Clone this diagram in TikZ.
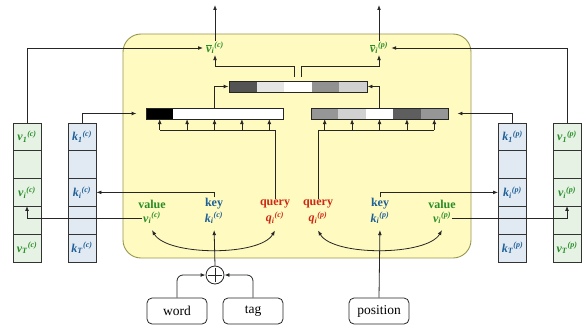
\documentclass[tikz,border=0pt]{standalone}
\usepackage{fontspec}
\setmainfont{Liberation Serif}
\usetikzlibrary{arrows.meta}

\definecolor{valgreen}{RGB}{40,140,40}
\definecolor{keyblue}{RGB}{30,95,150}
\definecolor{qred}{RGB}{205,40,20}
\definecolor{boxyellow}{RGB}{255,250,192}
\definecolor{boxedge}{RGB}{150,150,80}
\definecolor{vfill}{RGB}{230,242,228}
\definecolor{kfill}{RGB}{225,234,243}

% bold italic vector with subscript and superscript
\newcommand{\symvec}[3]{\textbf{\textit{#1}}\textsubscript{\textbf{\textit{#2}}}\textsuperscript{\textbf{\textit{(#3)}}}}
% the same, with a bar over the letter
\newcommand{\symbar}[3]{\ensuremath{\overline{\mbox{\textbf{\textit{#1}}}}}\textsubscript{\textbf{\textit{#2}}}\textsuperscript{\textbf{\textit{(#3)}}}}

\begin{document}
\begin{tikzpicture}[x=1pt,y=-1pt,
  conn/.style={draw=black!85, line width=0.8pt},
  arr/.style={conn, -{Latex[length=5pt,width=3.8pt]}},
  darr/.style={conn, {Latex[length=5pt,width=3.8pt]}-{Latex[length=5pt,width=3.8pt]}},
  cell/.style={draw=black!80, line width=0.8pt, minimum width=28pt, minimum height=27.8pt, inner sep=0pt, font=\fontsize{12}{14}\selectfont},
  vcell/.style={cell, fill=vfill, text=valgreen},
  kcell/.style={cell, fill=kfill, text=keyblue},
  role/.style={font=\fontsize{12}{14}\selectfont\bfseries, inner sep=1pt},
  sym/.style={font=\fontsize{12}{14}\selectfont, inner sep=1pt},
  attbar/.style={draw=black!85, line width=0.8pt, minimum height=11pt, inner sep=0pt},
  inbox/.style={draw=black!85, line width=0.8pt, rounded corners=5pt, minimum width=60pt, minimum height=26pt, inner sep=0pt, font=\fontsize{13.5}{16}\selectfont},
]
\useasboundingbox (0,0) rectangle (583,329);

% attention block
\draw[fill=boxyellow, draw=boxedge, line width=0.9pt, rounded corners=18pt] (123,34) rectangle (471,258);

% weight bars: segment shading, then outlines
\foreach \g [count=\n] in {100,0,0,0,0}
  \fill[black!\g] ({146+27.4*(\n-1)},108) rectangle ({146+27.4*\n},119);
\foreach \g [count=\n] in {41,18,0,63,41}
  \fill[black!\g] ({311+27.4*(\n-1)},108) rectangle ({311+27.4*\n},119);
\foreach \g [count=\n] in {67,10,0,43,18}
  \fill[black!\g] ({229+27.6*(\n-1)},81) rectangle ({229+27.6*\n},92);
\node[attbar, minimum width=137pt] (attc) at (214.5,113.5) {};
\node[attbar, minimum width=137pt] (attp) at (379.5,113.5) {};
\node[attbar, minimum width=138pt] (mix) at (298,86.5) {};

% memory columns
\foreach \t [count=\n] in {{\symvec{v}{1}{c}},{},{\symvec{v}{i}{c}},{},{\symvec{v}{T}{c}}}
  \node[vcell] (vc\n) at (27,{109+27.8*\n}) {\t};
\foreach \t [count=\n] in {{\symvec{k}{1}{c}},{},{\symvec{k}{i}{c}},{},{\symvec{k}{T}{c}}}
  \node[kcell] (kc\n) at (82,{109+27.8*\n}) {\t};
\foreach \t [count=\n] in {{\symvec{k}{1}{p}},{},{\symvec{k}{i}{p}},{},{\symvec{k}{T}{p}}}
  \node[kcell] (kp\n) at (512.5,{109+27.8*\n}) {\t};
\foreach \t [count=\n] in {{\symvec{v}{1}{p}},{},{\symvec{v}{i}{p}},{},{\symvec{v}{T}{p}}}
  \node[vcell] (vp\n) at (567,{109+27.8*\n}) {\t};

% roles and their symbols
\node[role, text=valgreen] (vwc) at (152,204) {value};
\node[sym, text=valgreen]  (vmc) at (152,218) {\symvec{v}{i}{c}};
\node[role, text=keyblue]  (kwc) at (214,204) {key};
\node[sym, text=keyblue]   (kmc) at (214,218) {\symvec{k}{i}{c}};
\node[role, text=qred]     (qwc) at (275,204) {query};
\node[sym, text=qred]      (qmc) at (275,218) {\symvec{q}{i}{c}};
\node[role, text=qred]     (qwp) at (318,204) {query};
\node[sym, text=qred]      (qmp) at (318,218) {\symvec{q}{i}{p}};
\node[role, text=keyblue]  (kwp) at (380,204) {key};
\node[sym, text=keyblue]   (kmp) at (380,218) {\symvec{k}{i}{p}};
\node[role, text=valgreen] (vwp) at (442,204) {value};
\node[sym, text=valgreen]  (vmp) at (442,218) {\symvec{v}{i}{p}};

% outputs
\node[sym, text=valgreen] (vbarc) at (215,48) {\symbar{v}{i}{c}};
\node[sym, text=valgreen] (vbarp) at (379,48) {\symbar{v}{i}{p}};
\coordinate (outc) at (215,5);
\coordinate (outp) at (379,5);

% inputs
\node[inbox] (word) at (177,311) {word};
\node[inbox] (tag) at (253,311) {tag};
\node[inbox] (pos) at (379,311) {position};
\node[circle, draw=black!85, line width=0.8pt, minimum size=18pt, inner sep=0pt] (plus) at (215,275) {};
\draw[conn, shorten <=2.5pt, shorten >=2.5pt] (plus.north) -- (plus.south);
\draw[conn, shorten <=2.5pt, shorten >=2.5pt] (plus.west) -- (plus.east);

% input embeddings
\draw[arr, rounded corners=6pt] (word.north) |- (plus.west);
\draw[arr, rounded corners=6pt] (tag.north) |- (plus.east);
\draw[arr, shorten >=5pt] (plus.north) -- (kmc.south);
\draw[arr, shorten >=5pt] (pos.north) -- (kmp.south);

% key and value written to memory
\draw[arr] (kwc.north) |- (kc3.east);
\draw[arr] (kwp.north) |- (kp3.west);
\draw[arr] (vmc.west) -| (vc4.north);
\draw[arr] (vmp.east) -| (vp4.north);

% query against keys
\coordinate (rowc) at (0,130);
\foreach \n in {1,...,5} {
  \coordinate (ac\n) at ({146+27.4*(\n-0.5)},119);
  \coordinate (ap\n) at ({311+27.4*(\n-0.5)},119);
  \draw[arr] (ac\n |- rowc) -- (ac\n);
  \draw[arr] (ap\n |- rowc) -- (ap\n);
}
\draw[conn] (qwc.north) |- (ac1 |- rowc);
\draw[conn] (qwp.north) |- (ap5 |- rowc);

% keys into the weight bars
\draw[arr, shorten >=9pt] (kc1.north) |- (attc.west);
\draw[arr, shorten >=9pt] (kp1.north) |- (attp.east);

% weight bars merged
\draw[arr] (attc.north) |- (mix.west);
\draw[arr] (attp.north) |- (mix.east);
\draw[arr] (294.5,77) -- (294.5,66) -| (vbarc.south);
\draw[arr] (301.5,77) -- (301.5,66) -| (vbarp.south);

% values read out
\draw[arr, shorten >=2pt] (vc1.north) |- (vbarc.west);
\draw[arr, shorten >=2pt] (vp1.north) |- (vbarp.east);
\draw[arr] (vbarc.north) -- (outc);
\draw[arr] (vbarp.north) -- (outp);

% query ties value and query
\draw[darr] ([yshift=-5pt]vmc.south) .. controls +(15,26) and +(-15,26) .. ([yshift=-5pt]qmc.south);
\draw[darr] ([yshift=-5pt]qmp.south) .. controls +(15,26) and +(-15,26) .. ([yshift=-5pt]vmp.south);
\end{tikzpicture}
\end{document}
